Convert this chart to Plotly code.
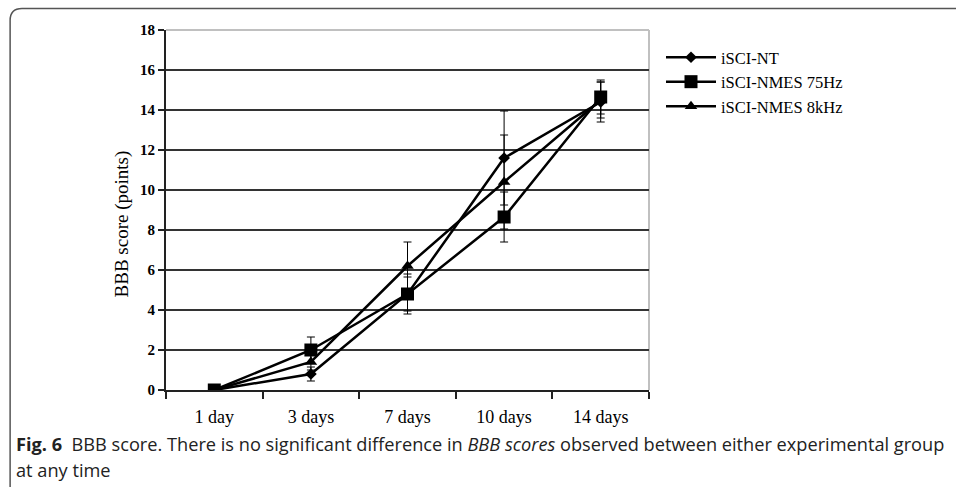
import plotly.graph_objects as go

categories = ["1 day", "3 days", "7 days", "10 days", "14 days"]
series_names = ["iSCI-NT", "iSCI-NMES 75Hz", "iSCI-NMES 8kHz"]
nt_values = [0, 0.8, 4.8, 11.6, 14.4]
nt_err = [0, 0.35, 0.85, 2.35, 1.0]
hz75_values = [0, 2.0, 4.8, 8.65, 14.65]
hz75_err = [0, 0.65, 1.0, 1.25, 0.85]
khz8_values = [0, 1.4, 6.2, 10.4, 14.5]
khz8_err = [0, 0.4, 1.2, 2.35, 0.9]
y_ticks = [0, 2, 4, 6, 8, 10, 12, 14, 16, 18]

W, H = 956, 487
L, R, T, B = 166, 654, 30, 390

def px_x(p):
    return (p - L) / (R - L)

def px_y(p):
    return (B - p) / (B - T)

fig = go.Figure()
styles = [("diamond", 9), ("square", 13), ("triangle-up", 11)]
for name, vals, errs, (sym, sz) in zip(series_names,
                                       [nt_values, hz75_values, khz8_values],
                                       [nt_err, hz75_err, khz8_err], styles):
    fig.add_trace(go.Scatter(
        x=categories, y=vals, name=name, mode="lines+markers",
        line=dict(color="black", width=2.5),
        marker=dict(symbol=sym, size=sz, color="black"),
        error_y=dict(type="data", array=errs, visible=True,
                     color="black", thickness=1, width=4),
    ))

serif = "Liberation Serif, Times New Roman, serif"

fig.update_layout(
    width=W, height=H, autosize=False,
    margin=dict(l=L, r=W - R, t=T, b=H - B, pad=0),
    paper_bgcolor="white", plot_bgcolor="white",
    showlegend=True,
    legend=dict(xref="container", yref="container",
                x=661 / W, y=1 - 40 / H, xanchor="left", yanchor="top",
                font=dict(family=serif, size=16.5, color="black"),
                bgcolor="rgba(0,0,0,0)", tracegroupgap=0, itemwidth=50),
    xaxis=dict(type="category", categoryorder="array", categoryarray=categories,
               range=[-0.5, 4.5], showgrid=False, zeroline=False,
               showline=True, linecolor="#222", linewidth=2,
               ticks="outside", tickson="boundaries", ticklen=7, tickwidth=1.5,
               tickcolor="#222", ticklabelstandoff=9,
               tickfont=dict(family=serif, size=18, color="black")),
    yaxis=dict(range=[0, 18], tickvals=y_ticks, showgrid=True,
               gridcolor="#333", gridwidth=2, zeroline=False,
               showline=True, linecolor="#222", linewidth=2,
               ticks="outside", ticklen=6, tickwidth=1.5, tickcolor="#222",
               tickfont=dict(family=serif, size=15, color="black", weight="bold")),
)

# y axis title
fig.add_annotation(xref="paper", yref="paper", x=px_x(122), y=px_y(224),
                   xanchor="center", yanchor="middle", showarrow=False,
                   textangle=-90, text="BBB score (points)",
                   font=dict(family=serif, size=19, color="black"))

# light plot-area frame (top and right)
fig.add_shape(type="line", xref="x domain", yref="y domain", x0=0, x1=1, y0=1, y1=1,
              line=dict(color="#c0c0c0", width=2), layer="above")
fig.add_shape(type="line", xref="x domain", yref="y domain", x0=1, x1=1, y0=0, y1=1,
              line=dict(color="#c0c0c0", width=2), layer="below")

# outer figure frame with rounded top-left corner
x0, y0, r = 8.5, 8.5, 12
xr, yb = W + 30, H + 30
path = (f"M {px_x(x0)},{px_y(yb)} L {px_x(x0)},{px_y(y0 + r)} "
        f"Q {px_x(x0)},{px_y(y0)} {px_x(x0 + r)},{px_y(y0)} L {px_x(xr)},{px_y(y0)}")
fig.add_shape(type="path", xref="paper", yref="paper", path=path,
              line=dict(color="#555", width=1.5))

cap_font = dict(family="Open Sans, Noto Sans, sans-serif", size=18.2, color="#222")
fig.add_annotation(xref="paper", yref="paper", x=px_x(12), y=px_y(444),
                   xanchor="left", yanchor="middle", showarrow=False,
                   text="<b>Fig. 6</b>  BBB score. There is no significant difference in "
                        "<i>BBB scores</i> observed between either experimental group",
                   font=cap_font)
fig.add_annotation(xref="paper", yref="paper", x=px_x(12), y=px_y(470),
                   xanchor="left", yanchor="middle", showarrow=False,
                   text="at any time", font=cap_font)

fig.write_html("out.html")
